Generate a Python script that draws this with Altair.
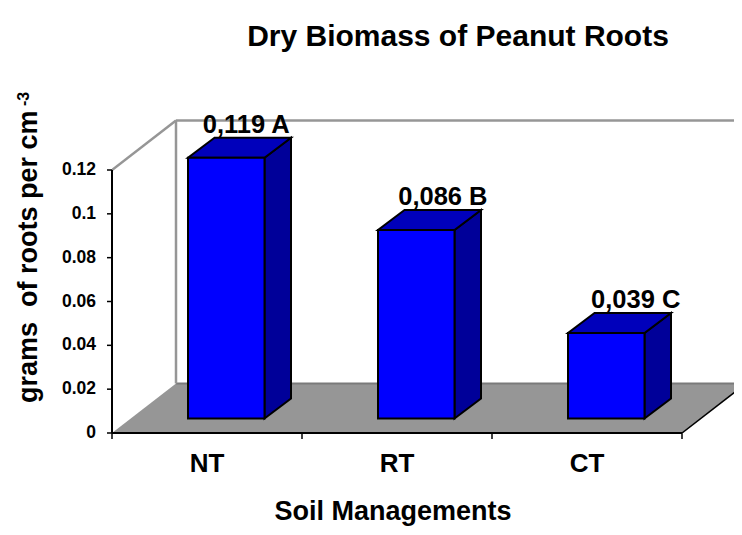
import altair as alt
import pandas as pd

categories = ["NT", "RT", "CT"]
values = [0.119, 0.086, 0.039]
labels = ["0,119 A", "0,086 B", "0,039 C"]
label_shift = [0.105, 0.14, 0.155]
y_ticks = [0, 0.02, 0.04, 0.06, 0.08, 0.1, 0.12]
x_ticks = [0, 1, 2, 3]

# axis geometry in data units
PX_X = 190
PX_Y = 263 / 0.12
OX, OY = 112, 116
W, H = 622, 317
xdom = [0, W / PX_X]
ydom = [0, H / PX_Y]
wall_dx, wall_dy = 64 / PX_X, 49.5 / PX_Y
bar_x0, bar_w = 76 / PX_X, 76.5 / PX_X
bar_base = 14.5 / PX_Y
depth_dx, depth_dy = 26.5 / PX_X, 20 / PX_Y

X = alt.X("x:Q", scale=alt.Scale(domain=xdom, nice=False, zero=False), axis=None)
Y = alt.Y("y:Q", scale=alt.Scale(domain=ydom, nice=False, zero=False), axis=None)
FONT = "Liberation Sans"

front, side, top = [], [], []
for i, v in enumerate(values):
    l = i + bar_x0
    r = l + bar_w
    b = bar_base
    t = bar_base + v
    front.append({"x": l, "x2": r, "y": b, "y2": t})
    side += [
        {"id": i, "x": r, "y": b, "y2": t},
        {"id": i, "x": r + depth_dx, "y": b + depth_dy, "y2": t + depth_dy},
    ]
    top += [
        {"id": i, "y": t, "x": l, "x2": r},
        {"id": i, "y": t + depth_dy, "x": l + depth_dx, "x2": r + depth_dx},
    ]

floor = pd.DataFrame(
    [
        {"y": 0, "x": 0, "x2": 3},
        {"y": wall_dy, "x": wall_dx, "x2": 3 + wall_dx},
    ]
)
floor_fill = (
    alt.Chart(floor)
    .mark_area(orient="horizontal", fill="#969696", clip=True)
    .encode(x=X, x2="x2:Q", y=Y)
)
floor_right = (
    alt.Chart(pd.DataFrame({"x": [3, 3 + wall_dx], "y": [0, wall_dy]}))
    .mark_line(color="#000000", strokeWidth=1.5, clip=True)
    .encode(x=X, y=Y)
)
wall_left = (
    alt.Chart(pd.DataFrame({"x": [0, wall_dx], "y": [0.12, 0.12 + wall_dy]}))
    .mark_line(color="#969696", strokeWidth=2.5, clip=True)
    .encode(x=X, y=Y)
)
wall_post = (
    alt.Chart(pd.DataFrame({"x": [wall_dx], "y": [wall_dy], "y2": [0.12 + wall_dy]}))
    .mark_rule(color="#969696", strokeWidth=2.5, clip=True)
    .encode(x=X, y=Y, y2="y2:Q")
)
wall_top = (
    alt.Chart(pd.DataFrame({"x": [wall_dx, xdom[1]], "y": [0.12 + wall_dy] * 2}))
    .mark_line(color="#969696", strokeWidth=2.5, clip=True)
    .encode(x=X, y=Y)
)
floor_back = (
    alt.Chart(pd.DataFrame({"x": [wall_dx, xdom[1]], "y": [wall_dy, wall_dy]}))
    .mark_line(color="#7a7a7a", strokeWidth=2, clip=True)
    .encode(x=X, y=Y)
)
y_axis = (
    alt.Chart(pd.DataFrame({"x": [0, 0], "y": [0, 0.12]}))
    .mark_line(color="#000000", strokeWidth=2)
    .encode(x=X, y=Y)
)
x_axis = (
    alt.Chart(pd.DataFrame({"x": [0, 3], "y": [0, 0]}))
    .mark_line(color="#000000", strokeWidth=2)
    .encode(x=X, y=Y)
)
y_tick_marks = (
    alt.Chart(pd.DataFrame({"y": y_ticks}))
    .mark_rule(color="#000000", strokeWidth=1.5)
    .encode(y=Y, x=alt.value(-5), x2=alt.value(0))
)
x_tick_marks = (
    alt.Chart(pd.DataFrame({"x": x_ticks}))
    .mark_rule(color="#000000", strokeWidth=1.5)
    .encode(x=X, y=alt.value(H), y2=alt.value(H + 6))
)
y_labels = (
    alt.Chart(pd.DataFrame({"y": y_ticks}))
    .mark_text(font=FONT, fontWeight="bold", fontSize=17.5, align="right", baseline="middle", color="#000000")
    .encode(x=alt.value(-16), y=Y, text=alt.Text("y:Q", format="~g"))
)
cat_labels = (
    alt.Chart(pd.DataFrame({"x": [i + 0.5 for i in range(3)], "t": categories}))
    .mark_text(font=FONT, fontWeight="bold", fontSize=26, baseline="alphabetic", color="#000000")
    .encode(x=X, y=alt.value(H + 39), text="t:N")
)

bars_front = (
    alt.Chart(pd.DataFrame(front))
    .mark_rect(fill="#0000FF", stroke="#000000", strokeWidth=2)
    .encode(x=X, x2="x2:Q", y=Y, y2="y2:Q")
)
bars_side = (
    alt.Chart(pd.DataFrame(side))
    .mark_area(fill="#000099", stroke="#000000", strokeWidth=2)
    .encode(x=X, y=Y, y2="y2:Q", detail="id:N")
)
bars_top = (
    alt.Chart(pd.DataFrame(top))
    .mark_area(orient="horizontal", fill="#0000BB", stroke="#000000", strokeWidth=2)
    .encode(x=X, x2="x2:Q", y=Y, detail="id:N")
)
value_labels = (
    alt.Chart(
        pd.DataFrame(
            {
                "x": [i + bar_x0 + bar_w / 2 + s for i, s in enumerate(label_shift)],
                "y": [bar_base + v for v in values],
                "t": labels,
            }
        )
    )
    .mark_text(font=FONT, fontWeight="bold", fontSize=25.5, baseline="alphabetic", dy=-25, color="#000000")
    .encode(x=X, y=Y, text="t:N")
)


def note(text, px, py, size, angle=0, align="center"):
    return (
        alt.Chart(pd.DataFrame({"t": [text]}))
        .mark_text(font=FONT, fontWeight="bold", fontSize=size, angle=angle, align=align,
                   baseline="alphabetic", color="#000000")
        .encode(x=alt.value(px), y=alt.value(py), text="t:N")
    )


title = note("Dry Biomass of Peanut Roots", 458 - OX, 46 - OY, 30)
xtitle = note("Soil Managements", 393 - OX, 520 - OY, 27)
ytitle = note("grams\u00a0 of roots per cm", 37 - OX, 403 - OY, 27, angle=270, align="left")
ysup = note("-3", 29 - OX, 106 - OY, 16, angle=270, align="left")

chart = (
    alt.layer(
        floor_fill, floor_right, floor_back, wall_left, wall_post, wall_top, y_axis, x_axis,
        y_tick_marks, x_tick_marks, y_labels, cat_labels,
        bars_side, bars_top, bars_front, value_labels, title, xtitle, ytitle, ysup,
    )
    .properties(
        width=W,
        height=H,
        padding={"left": OX - 8, "top": OY - 8, "right": 0, "bottom": 94},
        autosize=alt.AutoSizeParams(type="none"),
    )
    .configure_view(stroke=None)
)
chart.save("out.html", embed_options={"renderer": "svg", "actions": False})
